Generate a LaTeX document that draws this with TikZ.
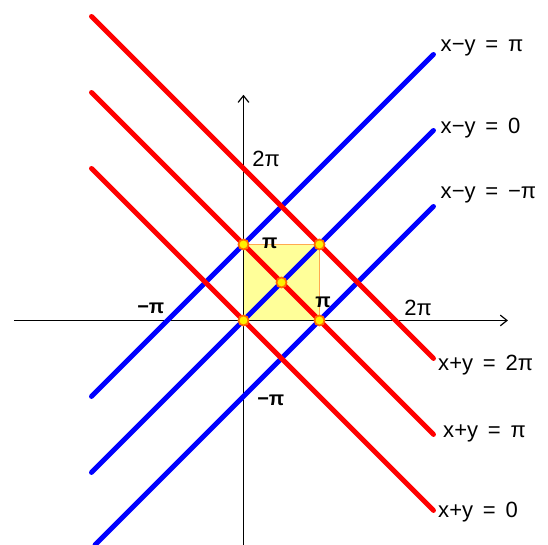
\documentclass[tikz,border=0pt]{standalone}
\usepackage{fontspec}
\setmainfont{Liberation Sans}
\usetikzlibrary{arrows.meta}
\definecolor{lblue}{RGB}{0,0,255}
\definecolor{lred}{RGB}{255,0,0}
\definecolor{sqfill}{RGB}{255,255,153}
\definecolor{sqedge}{RGB}{255,170,80}
\definecolor{dotedge}{RGB}{255,110,0}
\definecolor{dotfill}{RGB}{255,240,0}
\begin{document}
\begin{tikzpicture}[x=2cm,y=2cm,
  axis/.style={line width=0.9pt, draw=black},
  tip/.style={-{Straight Barb[length=5pt,width=8pt]}},
  bline/.style={line width=3.7pt, draw=lblue, line cap=round},
  rline/.style={line width=3.7pt, draw=lred, line cap=round},
  lbl/.style={anchor=west, inner sep=0pt, font=\fontsize{16.5}{19}\selectfont},
  blbl/.style={lbl, font=\fontsize{15}{18}\selectfont\bfseries},
  dot/.style={circle, fill=dotfill, draw=dotedge, line width=1.3pt, minimum size=7.5pt, inner sep=0pt}]
\useasboundingbox (-3.204,-2.954) rectangle (4.007,4.217);
% yellow square
\draw[fill=sqfill, draw=sqedge, line width=0.8pt] (0,0) rectangle (1,1);
% axes
\coordinate (xl) at (-3.02,0);
\coordinate (xr) at (3.48,0);
\coordinate (yb) at (0,-2.96);
\coordinate (yt) at (0,2.97);
\draw[axis,tip] (xl) -- (xr);
\draw[axis,tip] (yb) -- (yt);
% blue lines
\coordinate (b1s) at (-2,-1);   \coordinate (b1e) at (2.5,3.5);
\coordinate (b0s) at (-2,-2);   \coordinate (b0e) at (2.5,2.5);
\coordinate (bms) at (-1.954,-2.954); \coordinate (bme) at (2.5,1.5);
\draw[bline] (b1s) -- (b1e);
\draw[bline] (b0s) -- (b0e);
\draw[bline] (bms) -- (bme);
% red lines
\coordinate (r2s) at (-2,4);   \coordinate (r2e) at (2.5,-0.5);
\coordinate (r1s) at (-2,3);   \coordinate (r1e) at (2.5,-1.5);
\coordinate (r0s) at (-2,2);   \coordinate (r0e) at (2.5,-2.5);
\draw[rline] (r2s) -- (r2e);
\draw[rline] (r1s) -- (r1e);
\draw[rline] (r0s) -- (r0e);
% dots
\node[dot] (p00) at (0,0) {};
\node[dot] (p10) at (1,0) {};
\node[dot] (p01) at (0,1) {};
\node[dot] (p11) at (1,1) {};
\node[dot] (pmid) at (0.5,0.5) {};
% line labels
\node[lbl] (lb1) at (2.592,3.586) {x−y \,= \,π};
\node[lbl] (lb0) at (2.592,2.533) {x−y \,= \,0};
\node[lbl] (lbm) at (2.592,1.651) {x−y \,= \,−π};
\node[lbl] (lr2) at (2.559,-0.586) {x+y \,= \,2π};
\node[lbl] (lr1) at (2.625,-1.480) {x+y \,= \,π};
\node[lbl] (lr0) at (2.559,-2.520) {x+y \,= \,0};
% axis labels
\node[lbl] (x2pi) at (2.112,0.164) {2π};
\node[lbl] (y2pi) at (0.112,2.132) {2π};
\node[blbl] (xmpi) at (-1.401,0.164) {−π};
\node[blbl] (ympi) at (0.178,-1.046) {−π};
\node[blbl] (ypi) at (0.243,1.02) {π};
\node[blbl] (xpi) at (0.941,0.243) {π};
\end{tikzpicture}
\end{document}
